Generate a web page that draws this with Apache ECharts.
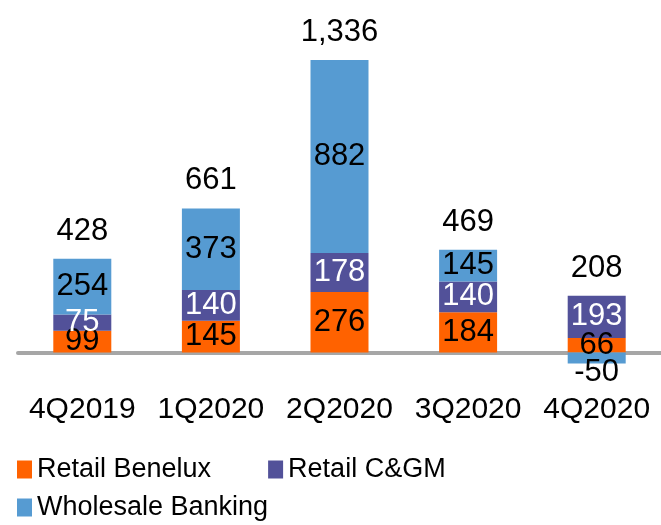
<!DOCTYPE html>
<html>
<head>
<meta charset="utf-8">
<script src="https://cdn.jsdelivr.net/npm/echarts@6/dist/echarts.min.js"></script>
<style>
  html, body { margin: 0; padding: 0; background: #fff; }
  #chart { width: 661px; height: 525px; }
</style>
</head>
<body>
<div id="chart"></div>
<script>
// quarters
var quarters = ['4Q2019', '1Q2020', '2Q2020', '3Q2020', '4Q2020'];
// segment values
var retailBenelux = [99, 145, 276, 184, 66];
var retailCGM = [75, 140, 178, 140, 193];
var wholesale = [254, 373, 882, 145, -50];
// totals shown above each bar
var totals = [428, 661, 1336, 469, 208];

var FONT = '"Liberation Sans", Arial, sans-serif';

// top of the positive stack, where the total label sits
var posTop = quarters.map(function (q, i) {
  var s = 0;
  [retailBenelux, retailCGM, wholesale].forEach(function (arr) {
    if (arr[i] > 0) s += arr[i];
  });
  return s;
});

function segLabel(color) {
  return {
    show: true,
    position: 'inside',
    color: color,
    fontFamily: FONT,
    fontSize: 31,
    formatter: '{c}'
  };
}

var option = {
  animation: false,
  grid: { left: 18, right: -6, top: 46, bottom: 150.6, containLabel: false },
  xAxis: {
    type: 'category',
    data: quarters,
    axisLine: { onZero: true, lineStyle: { color: '#A6A6A6', width: 4 } },
    axisTick: { show: false },
    axisLabel: { interval: 0, color: '#000', fontFamily: FONT, fontSize: 30, margin: 20 }
  },
  yAxis: {
    type: 'value',
    min: -100,
    max: 1400,
    show: false,
    splitLine: { show: false }
  },
  legend: [
    {
      data: ['Retail Benelux', 'Retail C&GM'],
      left: 12, top: 451,
      itemWidth: 15, itemHeight: 18, itemGap: 57, itemTextGap: 6, icon: 'rect',
      textStyle: { color: '#000', fontFamily: FONT, fontSize: 27 },
      itemStyle: { borderWidth: 0 }
    },
    {
      data: ['Wholesale Banking'],
      left: 12, top: 489,
      itemWidth: 15, itemHeight: 18, itemTextGap: 6, icon: 'rect',
      textStyle: { color: '#000', fontFamily: FONT, fontSize: 27 },
      itemStyle: { borderWidth: 0 }
    }
  ],
  series: [
    {
      name: 'Retail Benelux', type: 'bar', stack: 'total', barWidth: 58,
      itemStyle: { color: '#FF6200' },
      label: segLabel('#000'),
      data: retailBenelux
    },
    {
      name: 'Retail C&GM', type: 'bar', stack: 'total',
      itemStyle: { color: '#525199' },
      label: segLabel('#fff'),
      data: retailCGM
    },
    {
      name: 'Wholesale Banking', type: 'bar', stack: 'total',
      itemStyle: { color: '#569BD2' },
      label: segLabel('#000'),
      data: wholesale.map(function (v) {
        return v < 0 ? { value: v, label: { offset: [0, 14] } } : v;
      })
    },
    {
      name: 'Total', type: 'scatter', symbolSize: 0,
      itemStyle: { opacity: 1 },
      label: {
        show: true, position: 'top', distance: 12,
        color: '#000', opacity: 1, fontFamily: FONT, fontSize: 31,
        formatter: function (p) { return totals[p.dataIndex].toLocaleString('en-US'); }
      },
      data: posTop,
      z: 5
    }
  ]
};

var chart = echarts.init(document.getElementById('chart'));
chart.setOption(option);
</script>
</body>
</html>
